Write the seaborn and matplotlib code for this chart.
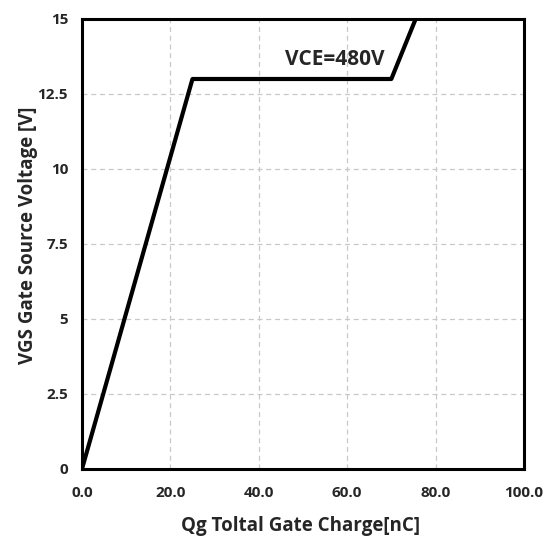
import numpy as np
import pandas as pd
import matplotlib
matplotlib.use("Agg")
import matplotlib.pyplot as plt
import seaborn as sns

# Gate charge curve
qg_nc = [0.0, 25.0, 70.0, 75.5]
vgs_v = [0.0, 13.0, 13.0, 15.0]

x_ticks = [0, 20, 40, 60, 80, 100]
x_tick_labels = ["0.0", "20.0", "40.0", "60.0", "80.0", "100.0"]
y_ticks = [0, 2.5, 5, 7.5, 10, 12.5, 15]
y_tick_labels = ["0", "2.5", "5", "7.5", "10", "12.5", "15"]

curve_label = "VCE=480V"

sns.set_theme(style="white")
plt.rcParams["font.family"] = ["Open Sans", "DejaVu Sans"]

df = pd.DataFrame({"Qg": qg_nc, "VGS": vgs_v})

fig = plt.figure(figsize=(5.55, 5.38), dpi=100)
ax = fig.add_axes([0.1477, 0.1283, 0.944 - 0.1477, 0.9647 - 0.1283])

sns.lineplot(data=df, x="Qg", y="VGS", ax=ax, color="black", linewidth=3,
             sort=False, estimator=None)

ax.set_xlim(0, 100)
ax.set_ylim(0, 15)
ax.set_xticks(x_ticks)
ax.set_xticklabels(x_tick_labels, fontsize=11, fontweight="bold")
ax.set_yticks(y_ticks)
ax.set_yticklabels(y_tick_labels, fontsize=11, fontweight="bold")
ax.tick_params(axis="x", length=0, pad=12)
ax.tick_params(axis="y", length=0, pad=10)

ax.grid(True, color="#c8c8c8", linestyle=(0, (4, 3)), linewidth=0.9)
for s in ax.spines.values():
    s.set_color("black")
    s.set_linewidth(2.2)

ax.set_xlabel("Qg Toltal Gate Charge[nC]", fontsize=13.5, fontweight="bold")
ax.set_ylabel("VGS Gate Source Voltage [V]", fontsize=13.5, fontweight="bold")
ax.xaxis.set_label_coords(0.4955, -0.105)
ax.yaxis.set_label_coords(-0.10, 0.52)

ax.text(57.2, 13.65, curve_label, fontsize=15, fontweight="bold", ha="center", va="center")

fig.savefig("out.png", dpi=100)
